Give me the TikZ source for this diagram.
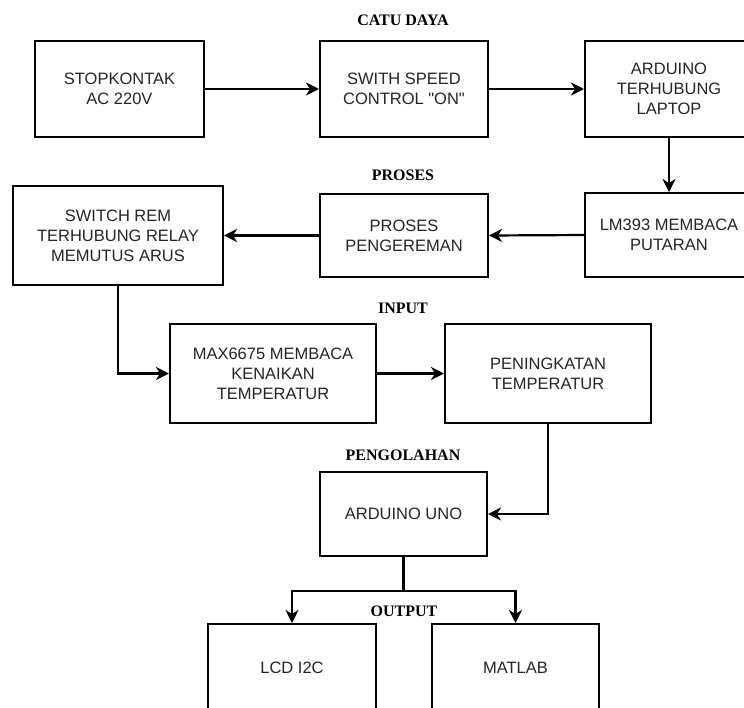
\documentclass[tikz,border=0pt]{standalone}
\usepackage{fontspec}
\setmainfont{Liberation Serif}
\newfontfamily\boxfont{Liberation Sans}
\usetikzlibrary{arrows.meta}
\tikzset{
  blk/.style={draw, line width=2pt, inner sep=0pt, align=center,
    font=\boxfont\fontsize{16.5}{20}\selectfont, text=black!85},
  ttl/.style={font=\bfseries\fontsize{16}{18}\selectfont, inner sep=0pt},
  arr/.style={line width=2.2pt, -{Stealth[length=13pt,width=13pt,inset=4pt]}},
  lin/.style={line width=2.2pt}
}
\begin{document}
\begin{tikzpicture}[x=1pt,y=-1pt]
\clip (0,0) rectangle (744,707);
\fill[white] (0,0) rectangle (744,707);
% boxes
\node[blk, minimum width=169pt, minimum height=96pt] (b1) at (119.5,89) {STOPKONTAK\\AC 220V};
\node[blk, minimum width=168pt, minimum height=96pt] (b2) at (404,89) {SWITH SPEED\\CONTROL "ON"};
\node[blk, minimum width=168pt, minimum height=96pt] (b3) at (669,89) {ARDUINO\\TERHUBUNG\\LAPTOP};
\node[blk, minimum width=168pt, minimum height=84pt] (b4) at (669,235) {LM393 MEMBACA\\PUTARAN};
\node[blk, minimum width=168pt, minimum height=83pt] (b5) at (404,235.5) {PROSES\\PENGEREMAN};
\node[blk, minimum width=210pt, minimum height=99pt] (b6) at (118,235.5) {SWITCH REM\\TERHUBUNG RELAY\\MEMUTUS ARUS};
\node[blk, minimum width=206pt, minimum height=99pt] (b7) at (273,373.5) {MAX6675 MEMBACA\\KENAIKAN\\TEMPERATUR};
\node[blk, minimum width=206pt, minimum height=99pt] (b8) at (548,373.5) {PENINGKATAN\\TEMPERATUR};
\node[blk, minimum width=167pt, minimum height=84pt] (b9) at (403.5,514) {ARDUINO UNO};
\node[blk, minimum width=168pt, minimum height=88pt] (b10) at (292,668) {LCD I2C};
\node[blk, minimum width=167pt, minimum height=88pt] (b11) at (515.5,668) {MATLAB};
% titles
\node[ttl] (t1) at (403,20) {CATU DAYA};
\node[ttl] (t2) at (403,175) {PROSES};
\node[ttl] (t3) at (403,308) {INPUT};
\node[ttl] (t4) at (403,455) {PENGOLAHAN};
\node[ttl] (t5) at (404,611) {OUTPUT};
% connectors
\draw[arr] (b1.east) -- (b2.west);
\draw[arr] (b2.east) -- (b3.west);
\draw[arr] (b3.south) -- (b4.north);
\draw[arr] (b4.west) -- (b5.east);
\draw[arr] (b5.west) -- (b6.east);
\draw[arr] (b6.south) |- (b7.west);
\draw[arr] (b7.east) -- (b8.west);
\draw[arr] (b8.south) |- (b9.east);
\coordinate (split) at (403.5,591);
\draw[lin] (b9.south) -- (split);
\draw[arr] (split) -| (b10.north);
\draw[arr] (split) -| (b11.north);
\end{tikzpicture}
\end{document}
